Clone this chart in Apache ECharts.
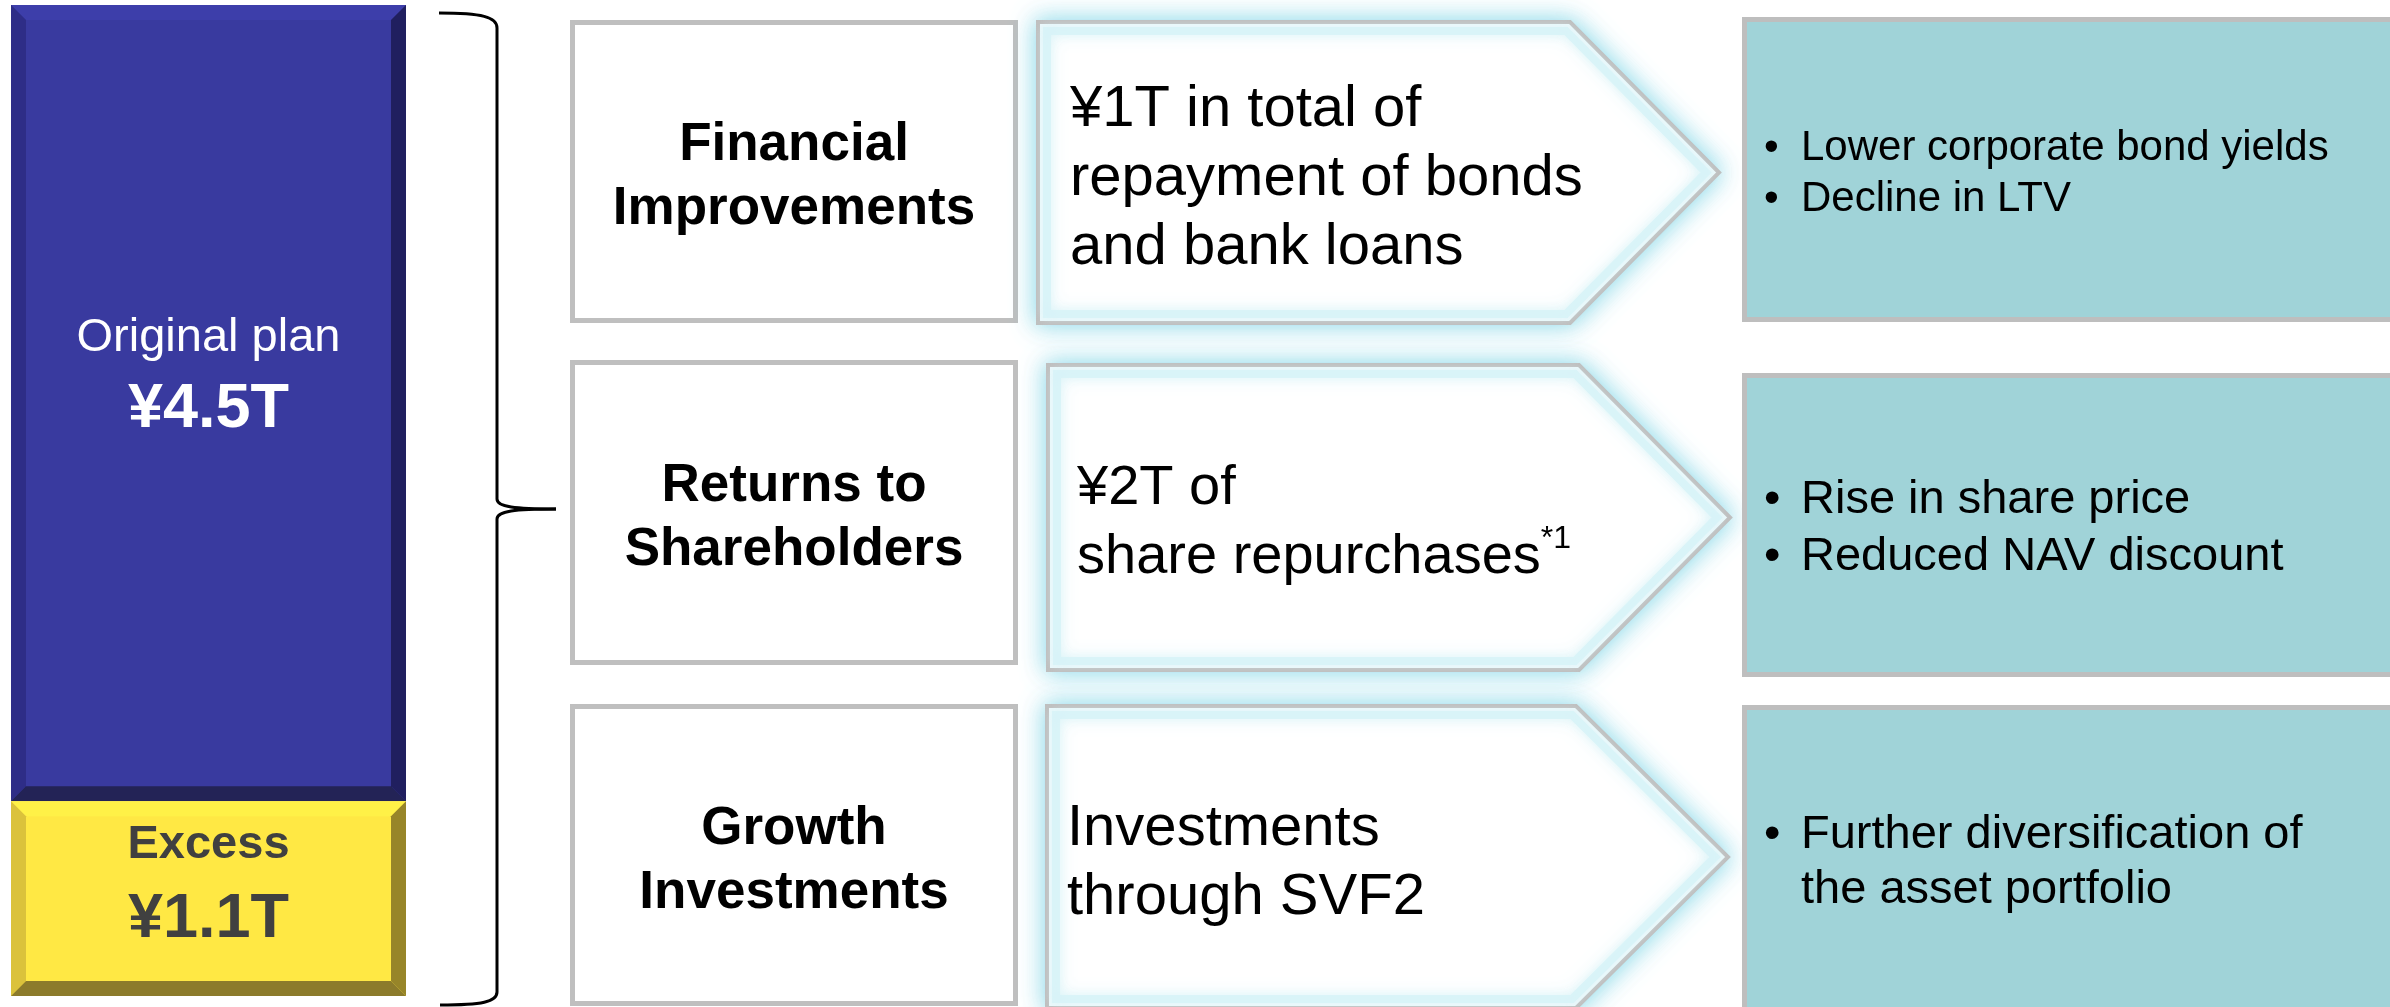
<!DOCTYPE html>
<html>
<head>
<meta charset="utf-8">
<title>Allocation of funds</title>
<script src="https://cdn.jsdelivr.net/npm/echarts@6/dist/echarts.min.js"></script>
<style>
  html, body { margin: 0; padding: 0; background: #fff; }
  #chart { width: 2390px; height: 1007px; }
</style>
</head>
<body>
<div id="chart"></div>
<script>
// stacked bar (trillion yen), listed top to bottom
const segmentNames = ['Original plan', 'Excess'];
const segmentValues = [4.5, 1.1];
const segmentLabels = ['¥4.5T', '¥1.1T'];

// where the money goes
const categories = ['Financial\nImprovements', 'Returns to\nShareholders', 'Growth\nInvestments'];
const actions = [
  ['¥1T in total of', 'repayment of bonds', 'and bank loans'],
  ['¥2T of', 'share repurchases'],
  ['Investments', 'through SVF2']
];
const actionNotes = ['', '*1', ''];
// each bullet may wrap onto several lines
const effects = [
  [['Lower corporate bond yields'], ['Decline in LTV']],
  [['Rise in share price'], ['Reduced NAV discount']],
  [['Further diversification of', 'the asset portfolio']]
];

const FONT = '"Liberation Sans", Arial, Helvetica, sans-serif';
const GRAY = '#BFBFBF';
const BEVEL = 15;

// bevel colours per segment
const segStyles = [
  { face: '#393A9F', top: '#3D3EAA', left: '#2E2D87', right: '#201F5F', bottom: '#232356', text: '#FFFFFF', offsets: [-65, 6] },
  { face: '#FFE844', top: '#FFF147', left: '#DBC23B', right: '#978529', bottom: '#8C7B2B', text: '#404040', offsets: [-54, 21] }
];

// row layout (pixels)
const rows = [
  { top: 20, bottom: 323, aLeft: 1038, aTop: 22, aBottom: 323, shoulder: 1570, tip: 1719, textX: 1070, afs: 58, bTop: 17, bBottom: 322, fs: 42, lh: 51 },
  { top: 360, bottom: 665, aLeft: 1048, aTop: 365, aBottom: 670, shoulder: 1579, tip: 1730, textX: 1077, afs: 56, bTop: 373, bBottom: 677, fs: 47, lh: 57 },
  { top: 704, bottom: 1006, aLeft: 1047, aTop: 706, aBottom: 1008, shoulder: 1576, tip: 1728, textX: 1067, afs: 58, bTop: 705, bBottom: 1012, fs: 47, lh: 55 }
];

// first segment sits on top, so each base is the sum of the segments below it
const bases = segmentValues.map((v, i) => segmentValues.slice(i + 1).reduce((a, b) => a + b, 0));
const total = segmentValues.reduce((a, b) => a + b, 0);

const chart = echarts.init(document.getElementById('chart'));

const renderSegment = (params, api) => {
  const i = api.value(3);
  const s = segStyles[i];
  const lo = api.coord([api.value(0), api.value(1)]);
  const hi = api.coord([api.value(0), api.value(2)]);
  const w = api.size([1, 0])[0];
  const x0 = lo[0] - w / 2, x1 = lo[0] + w / 2;
  const yb = lo[1], yt = hi[1];
  const b = BEVEL;
  const cy = (yb + yt) / 2;
  const poly = (pts, fill) => ({ type: 'polygon', shape: { points: pts }, style: { fill } });
  return {
    type: 'group',
    children: [
      { type: 'rect', shape: { x: x0, y: yt, width: w, height: yb - yt }, style: { fill: s.face } },
      poly([[x0, yt], [x1, yt], [x1 - b, yt + b], [x0 + b, yt + b]], s.top),
      poly([[x0, yt], [x0 + b, yt + b], [x0 + b, yb - b], [x0, yb]], s.left),
      poly([[x1, yt], [x1, yb], [x1 - b, yb - b], [x1 - b, yt + b]], s.right),
      poly([[x0, yb], [x0 + b, yb - b], [x1 - b, yb - b], [x1, yb]], s.bottom),
      {
        type: 'text',
        style: {
          text: segmentNames[i], x: lo[0], y: cy + s.offsets[0],
          font: (i === 0 ? 'normal' : 'bold') + ` 47px ${FONT}`,
          fill: s.text, align: 'center', verticalAlign: 'middle'
        }
      },
      {
        type: 'text',
        style: {
          text: segmentLabels[i], x: lo[0], y: cy + s.offsets[1],
          font: `bold 63px ${FONT}`, fill: s.text, align: 'center', verticalAlign: 'middle'
        }
      }
    ]
  };
};

// diagram parts right of the bar
const graphics = [];

// curly brace
const brace = [
  { type: 'bezierCurve', shape: { x1: 439, y1: 13, cpx1: 482, cpy1: 13, cpx2: 497, cpy2: 17, x2: 497, y2: 28 } },
  { type: 'line', shape: { x1: 497, y1: 28, x2: 497, y2: 499 } },
  { type: 'bezierCurve', shape: { x1: 497, y1: 499, cpx1: 497, cpy1: 507, cpx2: 515, cpy2: 509, x2: 556, y2: 509 } },
  { type: 'bezierCurve', shape: { x1: 556, y1: 509, cpx1: 515, cpy1: 509, cpx2: 497, cpy2: 511, x2: 497, y2: 519 } },
  { type: 'line', shape: { x1: 497, y1: 519, x2: 497, y2: 992 } },
  { type: 'bezierCurve', shape: { x1: 497, y1: 992, cpx1: 497, cpy1: 1002, cpx2: 482, cpy2: 1005, x2: 440, y2: 1005 } }
];
brace.forEach(el => graphics.push(Object.assign(el, { style: { stroke: '#000', lineWidth: 3, fill: null } })));

rows.forEach((r, i) => {
  // category box
  graphics.push({
    type: 'rect',
    shape: { x: 572.5, y: r.top + 2.5, width: 443, height: r.bottom - r.top - 5 },
    style: { fill: '#fff', stroke: GRAY, lineWidth: 5 }
  });
  graphics.push({
    type: 'text',
    style: {
      text: categories[i], x: 794, y: (r.top + r.bottom) / 2 + 6,
      font: `bold 53px ${FONT}`, lineHeight: 64, fill: '#000',
      align: 'center', verticalAlign: 'middle'
    }
  });

  // arrow with soft outer glow and a faint inner glow
  const mid = (r.aTop + r.aBottom) / 2;
  graphics.push({
    type: 'polygon',
    shape: { points: [[r.aLeft, r.aTop], [r.shoulder, r.aTop], [r.tip, mid], [r.shoulder, r.aBottom], [r.aLeft, r.aBottom]] },
    style: { fill: '#fff', stroke: GRAY, lineWidth: 4, shadowBlur: 24, shadowColor: 'rgba(110,208,228,0.85)' }
  });
  const d = 9;
  graphics.push({
    type: 'polygon',
    shape: { points: [[r.aLeft + d, r.aTop + d], [r.shoulder - 4, r.aTop + d], [r.tip - 13, mid], [r.shoulder - 4, r.aBottom - d], [r.aLeft + d, r.aBottom - d]] },
    style: { fill: null, stroke: 'rgba(214,243,247,0.8)', lineWidth: 8, shadowBlur: 10, shadowColor: 'rgba(214,243,247,0.9)' }
  });
  let txt = actions[i].join('\n');
  if (actionNotes[i]) txt += `{sup|${actionNotes[i]}}`;
  graphics.push({
    type: 'text',
    style: {
      text: txt, x: r.textX, y: mid + 6,
      font: `${r.afs}px ${FONT}`, lineHeight: 69, fill: '#000',
      align: 'left', verticalAlign: 'middle',
      rich: { sup: { fontSize: 32, fontFamily: FONT, fill: '#000', verticalAlign: 'top', lineHeight: 48 } }
    }
  });

  // outcome box
  graphics.push({
    type: 'rect',
    shape: { x: 1744.5, y: r.bTop + 2.5, width: 700, height: r.bBottom - r.bTop - 5 },
    style: { fill: '#A0D3D8', stroke: '#BEBEBE', lineWidth: 5 }
  });
  const lines = [];
  effects[i].forEach(item => item.forEach((ln, k) => lines.push({ ln, bullet: k === 0 })));
  const cy = (r.bTop + r.bBottom) / 2 + 4;
  lines.forEach((l, k) => {
    const y = cy + (k - (lines.length - 1) / 2) * r.lh;
    if (l.bullet) {
      graphics.push({ type: 'text', style: { text: '•', x: 1764, y, font: `${r.fs}px ${FONT}`, fill: '#000', align: 'left', verticalAlign: 'middle' } });
    }
    graphics.push({ type: 'text', style: { text: l.ln, x: 1801, y, font: `${r.fs}px ${FONT}`, fill: '#000', align: 'left', verticalAlign: 'middle' } });
  });
});

chart.setOption({
  animation: false,
  backgroundColor: '#ffffff',
  grid: { left: 11, top: 5, width: 395, height: 991 },
  xAxis: { type: 'category', data: ['Funds'], show: false },
  yAxis: { type: 'value', min: 0, max: total, show: false },
  series: [{
    type: 'custom',
    coordinateSystem: 'cartesian2d',
    renderItem: renderSegment,
    encode: { x: 0, y: [1, 2] },
    data: segmentValues.map((v, i) => [0, bases[i], bases[i] + v, i])
  }],
  graphic: graphics
});

window.addEventListener('resize', () => chart.resize());
</script>
</body>
</html>
